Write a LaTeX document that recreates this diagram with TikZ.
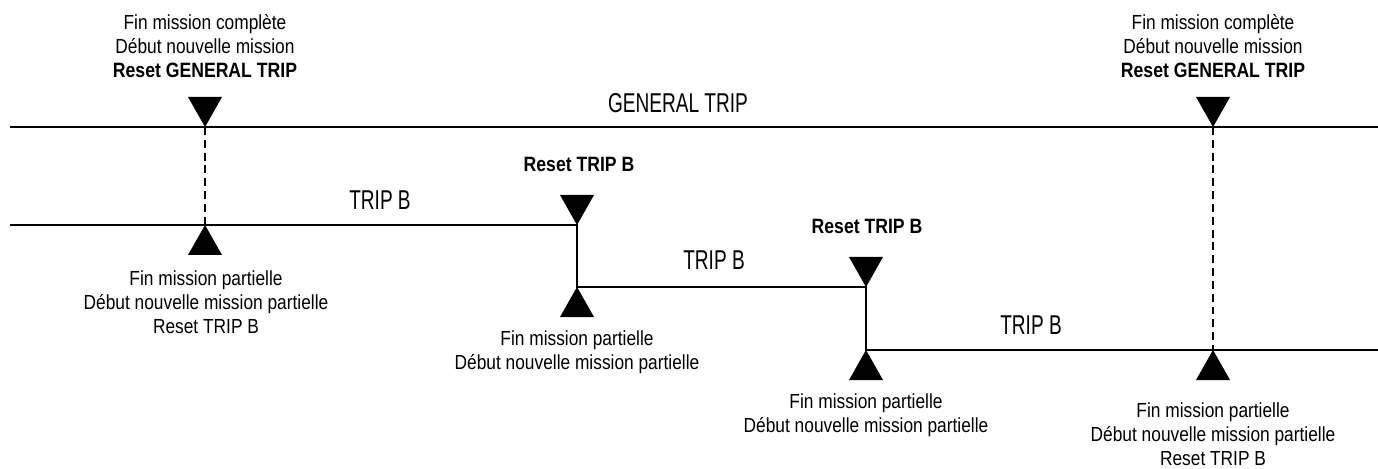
\documentclass[tikz,border=0pt]{standalone}
\usepackage{fontspec}
\setmainfont{Liberation Sans}[FakeStretch=0.85]
\newfontfamily\capsfont{Liberation Sans}[FakeStretch=0.7]
\usetikzlibrary{positioning}

\tikzset{
 trip/.style={line width=1.6pt},
 link/.style={line width=1.2pt,dash pattern=on 4.5pt off 2.8pt},
 lab/.style={align=center,inner sep=0pt,font=\fontsize{11.6}{13.8}\selectfont},
 reset/.style={inner sep=0pt,font=\fontsize{11.8}{13.8}\selectfont\bfseries},
 triplab/.style={inner sep=0pt,font=\capsfont\fontsize{15.5}{18}\selectfont},
 tridown/.pic={\fill (0,0) -- (-17,-30) -- (17,-30) -- cycle;},
 triup/.pic={\fill (0,0) -- (-17,30) -- (17,30) -- cycle;},
}

\begin{document}
\begin{tikzpicture}[x=0.02cm,y=-0.02cm]
\useasboundingbox (0,0) rectangle (1378,469);
% points on the trips
\coordinate (gstart) at (10,127);
\coordinate (gend) at (1378,127);
\coordinate (bstart) at (10,225);
\coordinate (bend) at (1378,350);
\coordinate (g1) at (205,127);
\coordinate (m1) at (205,225);
\coordinate (r1) at (577,225);
\coordinate (r1b) at (577,287);
\coordinate (r2) at (866,287);
\coordinate (r2b) at (866,350);
\coordinate (g2) at (1213,127);
\coordinate (m2) at (1213,350);
% trips
\draw[trip] (gstart) -- (gend);
\draw[trip] (bstart) -- (r1) -- (r1b) -- (r2) -- (r2b) -- (bend);
\draw[link] (g1) -- (m1);
\draw[link] (g2) -- (m2);
% markers
\pic at (g1) {tridown};
\pic at (g2) {tridown};
\pic at (r1) {tridown};
\pic at (r2) {tridown};
\pic at (m1) {triup};
\pic at (r1b) {triup};
\pic at (r2b) {triup};
\pic at (m2) {triup};
% trip names
\node[triplab,anchor=base] (gname) at (678,113) {GENERAL TRIP};
\node[triplab,anchor=base] (bname1) at (380,210) {TRIP B};
\node[triplab,anchor=base] (bname2) at (714,270) {TRIP B};
\node[triplab,anchor=base] (bname3) at (1031,335) {TRIP B};
% events
\node[lab,anchor=north] (top1) at (205,14) {Fin mission complète\\Début nouvelle mission\\{\fontsize{11.8}{13.8}\selectfont\bfseries Reset GENERAL TRIP}};
\node[lab,anchor=north] (top2) at (1213,14) {Fin mission complète\\Début nouvelle mission\\{\fontsize{11.8}{13.8}\selectfont\bfseries Reset GENERAL TRIP}};
\node[reset,anchor=base] (rst1) at (579,172) {Reset TRIP B};
\node[reset,anchor=base] (rst2) at (867,234) {Reset TRIP B};
\node[lab,anchor=north] (bot1) at (206,270) {Fin mission partielle\\Début nouvelle mission partielle\\Reset TRIP B};
\node[lab,anchor=north] (bot2) at (577,330) {Fin mission partielle\\Début nouvelle mission partielle};
\node[lab,anchor=north] (bot3) at (866,393) {Fin mission partielle\\Début nouvelle mission partielle};
\node[lab,anchor=north] (bot4) at (1213,402) {Fin mission partielle\\Début nouvelle mission partielle\\Reset TRIP B};
\end{tikzpicture}
\end{document}
